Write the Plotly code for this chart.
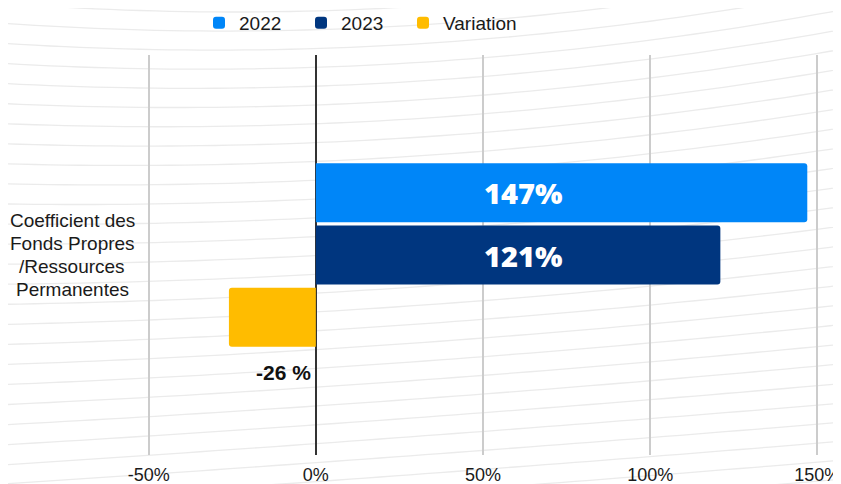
import plotly.graph_objects as go

# ---- data ----
category = ["Coefficient des<br>Fonds Propres<br>/Ressources<br>Permanentes"]
series_names = ["2022", "2023", "Variation"]
values_2022 = [147]
values_2023 = [121]
values_variation = [-26]
labels_2022 = ["147%"]
labels_2023 = ["121%"]
labels_variation = ["-26 %"]
x_tick_values = [-50, 0, 50, 100, 150]
x_tick_labels = ["-50%", "0%", "50%", "100%", "150%"]

colors = {"2022": "#0086F8", "2023": "#00367F", "Variation": "#FFBC00"}

# page has an 8px body margin -> figure offset accordingly
OFF = 8
W, H = 841, 484
ML, MR, MT, MB = 134, 25, 47, 37
PW, PH = W - ML - MR, H - MT - MB


def px_x(page_x):
    return (page_x - OFF - ML) / PW


def px_y(page_y):
    return (OFF + MT + PH - page_y) / PH


fig = go.Figure()
legends = ["legend", "legend2", "legend3"]
for name, vals, lg in zip(series_names, [values_2022, values_2023, values_variation], legends):
    fig.add_trace(go.Bar(
        name=name, y=category, x=vals, orientation="h", legend=lg,
        marker=dict(color=colors[name], line=dict(width=0)),
        hoverinfo="skip",
    ))

BARGAP = 0.5325
GROUPGAP = 0.053
slot_px = PH * (1 - BARGAP) / 3

annotations = []
LABEL_X = 62
for i, lab in enumerate([labels_2022, labels_2023]):
    annotations.append(dict(
        x=LABEL_X, y=category[0], xref="x", yref="y", text=lab[0], showarrow=False,
        yshift=(1 - i) * slot_px,
        font=dict(family="Open Sans", size=29, color="white", weight=800),
    ))
annotations.append(dict(
    x=0, y=category[0], xref="x", yref="y", text="<b>" + labels_variation[0] + "</b>",
    showarrow=False, xanchor="right", xshift=-3, yshift=-117,
    font=dict(family="Liberation Sans, Arial", size=21, color="#111111"),
))
lines = category[0].split("<br>")
LINE_H = 23.3
for j, ln in enumerate(lines):
    annotations.append(dict(
        x=px_x(72), y=0.5, xref="paper", yref="paper", text=ln,
        showarrow=False, xanchor="center", yanchor="middle",
        yshift=((len(lines) - 1) / 2 - j) * LINE_H,
        font=dict(family="Liberation Sans, Arial", size=19, color="#1a1a1a"),
    ))

# decorative faint background curves
shapes = []
for k in range(34):
    c = -45 + k * 19
    f = min(max(c / 450.0, 0.0), 1.0)
    a = 0.00016 * (1 - f) + 0.00001
    t = 0.07 * f
    pts = []
    for page_x in range(-10, 870, 15):
        page_y = c - t * (page_x - 240) - a * (page_x - 240) ** 2
        pts.append((px_x(page_x), px_y(page_y)))
    path = "M " + " L ".join(f"{x:.4f},{y:.4f}" for x, y in pts)
    shapes.append(dict(type="path", path=path, xref="paper", yref="paper",
                       line=dict(color="#ebebeb", width=1.3), layer="below"))

leg_common = dict(orientation="h", xanchor="left", yanchor="middle", y=px_y(23),
                  font=dict(size=19, color="#1a1a1a"), bgcolor="rgba(0,0,0,0)")
square_left = [213, 315, 417]

fig.update_layout(
    width=W, height=H,
    margin=dict(l=ML, r=MR, t=MT, b=MB, autoexpand=False),
    paper_bgcolor="white", plot_bgcolor="rgba(0,0,0,0)",
    barmode="group", bargap=BARGAP, bargroupgap=GROUPGAP, barcornerradius=3,
    font=dict(family="Liberation Sans, Arial", color="#1a1a1a"),
    showlegend=True,
    legend=dict(x=px_x(square_left[0] - 14), **leg_common),
    legend2=dict(x=px_x(square_left[1] - 14), **leg_common),
    legend3=dict(x=px_x(square_left[2] - 14), **leg_common),
    xaxis=dict(range=[-52, 152], tickvals=x_tick_values, ticktext=x_tick_labels,
               showgrid=True, gridcolor="#cccccc", gridwidth=2,
               zeroline=True, zerolinecolor="#333333", zerolinewidth=2,
               showline=False, ticks="", ticklabelstandoff=7, automargin=False,
               tickfont=dict(size=18, color="#1a1a1a"), fixedrange=True),
    yaxis=dict(autorange="reversed", showticklabels=False, showgrid=False,
               zeroline=False, showline=False, ticks="", fixedrange=True,
               automargin=False),
    annotations=annotations,
    shapes=shapes,
)

fig.write_html("out.html", config={"displayModeBar": False})
